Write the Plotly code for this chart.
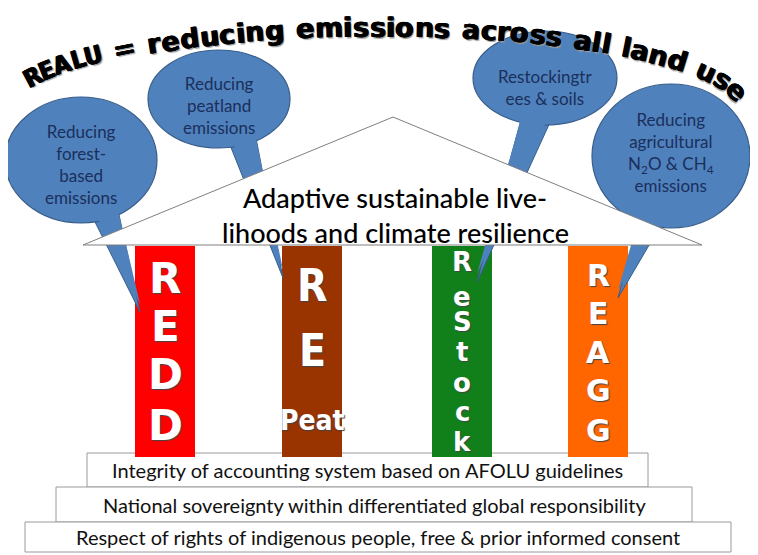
import math

import plotly.graph_objects as go

# ---------------------------------------------------------------- text content
TITLE = "REALU = reducing emissions across all land use"
ROOF_LINES = ["Adaptive sustainable live-", "lihoods and climate resilience"]
BUBBLE_LABELS = [
    "Reducing<br>forest-<br>based<br>emissions",
    "Reducing<br>peatland<br>emissions",
    "Restockingtr<br>ees & soils",
    "Reducing<br>agricultural<br>N<sub>2</sub>O & CH<sub>4</sub><br>emissions",
]
PILLAR_NAMES = ["REDD", "REPeat", "REStock", "REAGG"]
PILLAR_LETTERS = [
    ["R", "E", "D", "D"],
    ["R", "E", "Peat"],
    ["R", "e", "S", "t", "o", "c", "k"],
    ["R", "E", "A", "G", "G"],
]
STEP_LABELS = [
    "Integrity of accounting system based on AFOLU guidelines",
    "National sovereignty within differentiated global responsibility",
    "Respect of rights of indigenous people, free & prior informed consent",
]

# ---------------------------------------------------------------- layout (px-like units)
W, H = 758, 555
PAGE_MARGIN = 8  # default body margin of the html page
ROOF = [(83, 245), (393, 117), (702, 245)]
PILLAR_X = [(135, 195), (282, 342), (432, 492), (568, 628)]
PILLAR_Y = (246, 457)
PILLAR_COLORS = ["#FF0000", "#993300", "#11801A", "#FF6600"]
LETTER_Y = [
    [278, 326, 374, 425],
    [285, 350, 420],
    [262, 297, 322, 352, 383, 412, 442],
    [275, 313, 352, 390, 430],
]
LETTER_SIZE = [[42] * 4, [44, 44, 28], [26] * 7, [30] * 5]
NARROW = "DejaVu Sans Condensed, Liberation Sans Narrow, Roboto, Liberation Sans"
LETTER_FONT = ["DejaVu Sans", NARROW, "DejaVu Sans", "DejaVu Sans"]
STEP_BOXES = [(87, 648, 453, 487), (56, 692, 487, 522), (25, 731, 522, 552)]
BUBBLES = [
    dict(c=(81, 160), r=(76, 63), tail=[(90, 212), (118, 210), (140, 312)], ty=164),
    dict(c=(219, 99), r=(71, 49), tail=[(228, 140), (256, 138), (283, 278)], ty=105),
    dict(c=(545, 78), r=(72, 47), tail=[(522, 116), (552, 118), (477, 282)], ty=87),
    dict(c=(671, 156), r=(79, 72), tail=[(640, 215), (665, 218), (618, 298)], ty=152),
]
BUBBLE_FILL = "#4F81BD"
BUBBLE_LINE = "#385D8A"
BUBBLE_TEXT = "#1B2F5B"

# title arc: centre line of the letters, half-ellipses with a different width each side
ARC_CX, ARC_CY = 385, 107
ARC_A_LEFT, ARC_A_RIGHT, ARC_B = 380, 360, 80
ARC_X = (32, 737)
TITLE_SIZE = 27
TITLE_CAPS_SIZE = 25   # "REALU" is squeezed at the end of the arch
TITLE_CAPS = 5
# rough DejaVu Sans Bold advance widths (em)
ADV = {
    "R": 0.77, "E": 0.683, "A": 0.774, "L": 0.637, "U": 0.815, " ": 0.4, "=": 0.838,
    "a": 0.675, "c": 0.593, "d": 0.716, "e": 0.678, "g": 0.716, "i": 0.343, "l": 0.343,
    "m": 1.042, "n": 0.712, "o": 0.687, "r": 0.493, "s": 0.595, "u": 0.712,
}


def path_of(points):
    return "M " + " L ".join(f"{x},{y}" for x, y in points) + " Z"


def arc_point(t):
    a = ARC_A_LEFT if t < 0 else ARC_A_RIGHT
    x = ARC_CX + a * math.sin(t)
    y = ARC_CY - ARC_B * math.cos(t)
    ang = math.degrees(math.atan2(ARC_B * math.sin(t), a * math.cos(t)))
    return x, y, ang


def title_annotations():
    t0 = math.asin((ARC_X[0] - ARC_CX) / ARC_A_LEFT)
    t1 = math.asin((ARC_X[1] - ARC_CX) / ARC_A_RIGHT)
    n = 3000
    ts = [t0 + (t1 - t0) * k / n for k in range(n + 1)]
    cum = [0.0]
    for k in range(1, n + 1):
        x0, y0, _ = arc_point(ts[k - 1])
        x1, y1, _ = arc_point(ts[k])
        cum.append(cum[-1] + math.hypot(x1 - x0, y1 - y0))
    length = cum[-1]

    styles = []
    for i, ch in enumerate(TITLE):
        if i < TITLE_CAPS:
            styles.append(("DejaVu Sans Condensed, DejaVu Sans", TITLE_CAPS_SIZE, 0.88))
        else:
            styles.append(("DejaVu Sans", TITLE_SIZE, 1.0))
    widths = [ADV.get(ch, 0.6) * size * squeeze for ch, (_, size, squeeze) in zip(TITLE, styles)]
    centers, run = [], 0.0
    for w in widths:
        centers.append(run + w / 2)
        run += w
    first, last = centers[0], centers[-1]

    anns = []
    k = 0
    for ch, c, (family, size, _) in zip(TITLE, centers, styles):
        s = (c - first) / (last - first) * length
        while k < n and cum[k] < s:
            k += 1
        if ch == " ":
            continue
        x, y, ang = arc_point(ts[k])
        anns.append(dict(
            x=x, y=y, text=ch, showarrow=False, textangle=ang,
            xanchor="center", yanchor="middle",
            font=dict(family=family, size=size, color="black", weight="bold",
                      shadow="0.8px 0px 0px #000, -0.6px 0px 0px #000, 1.5px 1.5px 1px #999"),
        ))
    return anns


fig = go.Figure()
shapes = []
annotations = []

# foundation steps
for (x0, x1, y0, y1), label in zip(STEP_BOXES, STEP_LABELS):
    shapes.append(dict(type="rect", x0=x0, x1=x1, y0=y0, y1=y1,
                       fillcolor="white", line=dict(color="#9A9A9A", width=1)))
    annotations.append(dict(x=(x0 + x1) / 2, y=(y0 + y1) / 2, text=label, showarrow=False,
                            xanchor="center", yanchor="middle",
                            font=dict(family="Lato", size=20, color="#111111")))

# pillars
for (x0, x1), color in zip(PILLAR_X, PILLAR_COLORS):
    shapes.append(dict(type="rect", x0=x0, x1=x1, y0=PILLAR_Y[0], y1=PILLAR_Y[1],
                       fillcolor=color, line=dict(width=0)))

# speech bubbles: tail, body, then a borderless tail patch to merge the outline
for b in BUBBLES:
    (cx, cy), (rx, ry) = b["c"], b["r"]
    shapes.append(dict(type="path", path=path_of(b["tail"]), fillcolor=BUBBLE_FILL,
                       line=dict(color=BUBBLE_LINE, width=1)))
    shapes.append(dict(type="circle", x0=cx - rx, x1=cx + rx, y0=cy - ry, y1=cy + ry,
                       fillcolor=BUBBLE_FILL, line=dict(color=BUBBLE_LINE, width=1.2)))
    (ax, ay), (bx, by), tip = b["tail"]
    inner = [(ax + 1.5, ay - 6), (bx - 1.5, by - 6), (tip[0], tip[1] - 8)]
    shapes.append(dict(type="path", path=path_of(inner), fillcolor=BUBBLE_FILL,
                       line=dict(width=0)))

for b, label in zip(BUBBLES, BUBBLE_LABELS):
    annotations.append(dict(x=b["c"][0], y=b["ty"], text=label, showarrow=False,
                            xanchor="center", yanchor="middle",
                            font=dict(family="Lato", size=17, color=BUBBLE_TEXT)))

# roof
shapes.append(dict(type="path", path=path_of(ROOF), fillcolor="white",
                   line=dict(color="#7F7F7F", width=1)))
for y, line in zip([197, 232], ROOF_LINES):
    annotations.append(dict(x=395, y=y, text=line, showarrow=False,
                            font=dict(family="Lato", size=27, color="black", weight=500)))

# pillar lettering
for i, letters in enumerate(PILLAR_LETTERS):
    xc = sum(PILLAR_X[i]) / 2
    for ch, y, size in zip(letters, LETTER_Y[i], LETTER_SIZE[i]):
        annotations.append(dict(
            x=xc, y=y, text=ch, showarrow=False, xanchor="center", yanchor="middle",
            font=dict(family=LETTER_FONT[i], size=size, color="white",
                      weight="bold", shadow="1px 1px 1px #444"),
        ))

annotations += title_annotations()

# the page body keeps an 8px margin, so the figure is shifted by that much
fig.update_layout(
    width=W - PAGE_MARGIN,
    height=H - PAGE_MARGIN,
    margin=dict(l=0, r=0, t=0, b=0),
    paper_bgcolor="white",
    plot_bgcolor="white",
    showlegend=False,
    shapes=shapes,
    annotations=annotations,
    xaxis=dict(range=[PAGE_MARGIN, W], visible=False, fixedrange=True),
    yaxis=dict(range=[H, PAGE_MARGIN], visible=False, fixedrange=True),
)

fig.write_html("out.html")
